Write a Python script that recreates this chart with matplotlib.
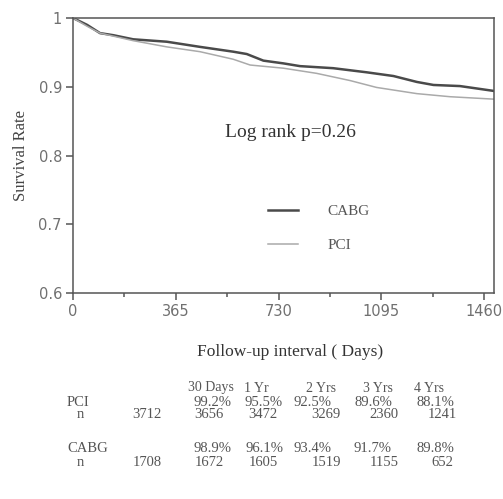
import matplotlib
matplotlib.use("Agg")
import matplotlib.pyplot as plt
from matplotlib.ticker import MultipleLocator

# Kaplan-Meier curves (days, survival)
cabg_days = [0, 50, 96, 143, 214, 333, 451, 569, 617, 676, 747, 806, 924, 1043, 1138, 1221, 1280, 1374, 1493]
cabg_surv = [1.0, 0.99, 0.978, 0.975, 0.969, 0.9655, 0.958, 0.951, 0.9476, 0.938, 0.934, 0.930, 0.927,
             0.921, 0.9156, 0.907, 0.9026, 0.901, 0.894]
pci_days = [0, 50, 96, 214, 333, 451, 569, 629, 747, 865, 984, 1078, 1221, 1339, 1493]
pci_surv = [1.0, 0.988, 0.978, 0.967, 0.958, 0.951, 0.940, 0.9316, 0.927, 0.9195, 0.909, 0.899, 0.890,
            0.8855, 0.882]

# table under the plot
periods = ["30 Days", "1 Yr", "2 Yrs", "3 Yrs", "4 Yrs"]
pci_pct = ["99.2%", "95.5%", "92.5%", "89.6%", "88.1%"]
pci_n = ["3712", "3656", "3472", "3269", "2360", "1241"]
cabg_pct = ["98.9%", "96.1%", "93.4%", "91.7%", "89.8%"]
cabg_n = ["1708", "1672", "1605", "1519", "1155", "652"]

W, H = 503, 499
fig = plt.figure(figsize=(W / 100, H / 100), dpi=100)
ax = fig.add_axes([73 / W, 1 - 293 / H, (494 - 73) / W, (293 - 18) / H])

ax.plot(cabg_days, cabg_surv, color="#4a4a4a", lw=1.8, label="CABG")
ax.plot(pci_days, pci_surv, color="#aaaaaa", lw=1.1, label="PCI")

ax.set_xlim(0, 1495)
ax.set_ylim(0.6, 1.0)
ax.xaxis.set_major_locator(MultipleLocator(365))
ax.xaxis.set_minor_locator(MultipleLocator(182.5))
ax.set_yticks([0.6, 0.7, 0.8, 0.9, 1.0])
ax.set_yticklabels(["0.6", "0.7", "0.8", "0.9", "1"])
for s in ax.spines.values():
    s.set_color("#555555")
    s.set_linewidth(1.1)
ax.tick_params(which="major", length=5, width=1.1, color="#555555", labelsize=10.5,
               labelcolor="#707070", pad=3)
ax.tick_params(which="minor", length=3, width=1.1, color="#555555")
ax.tick_params(axis="y", which="minor", length=0)

serif = "Liberation Serif"
ax.set_ylabel("Survival Rate", family=serif, fontsize=12, color="#444444", labelpad=7)
ax.text(771, 0.833, "Log rank p=0.26", family=serif, fontsize=14, color="#333333",
        ha="center", va="center")
leg = ax.legend(loc="center left", bbox_to_anchor=(0.43, 0.235), frameon=False,
                handlelength=2.0, handletextpad=1.9, labelspacing=1.3,
                prop={"family": serif, "size": 11})
for t in leg.get_texts():
    t.set_color("#555555")

fig.text(290 / W, 1 - 352 / H, "Follow-up interval ( Days)", family=serif, fontsize=12.5,
         color="#333333", ha="center", va="center")

# table layout (pixel positions)
txt_kw = dict(family=serif, fontsize=10.5, color="#555555", va="center")
hdr_x = [211, 256, 321, 378, 429]
pct_x = [213, 264, 313, 373, 435]
n_x = [147, 209, 263, 326, 384, 442]
rows_y = [388, 402, 415, 448, 462]

def fy(y):
    return 1 - y / H

for x, p in zip(hdr_x, periods):
    fig.text(x / W, fy(rows_y[0]), p, ha="center", **dict(txt_kw, fontsize=10))
fig.text(67 / W, fy(rows_y[1]), "PCI", ha="left", **txt_kw)
fig.text(80 / W, fy(rows_y[2]), "n", ha="center", **txt_kw)
fig.text(67 / W, fy(rows_y[3]), "CABG", ha="left", **txt_kw)
fig.text(80 / W, fy(rows_y[4]), "n", ha="center", **txt_kw)
for x, p in zip(pct_x, pci_pct):
    fig.text(x / W, fy(rows_y[1]), p, ha="center", **txt_kw)
for x, p in zip(n_x, pci_n):
    fig.text(x / W, fy(rows_y[2]), p, ha="center", **txt_kw)
for x, p in zip(pct_x, cabg_pct):
    fig.text(x / W, fy(rows_y[3]), p, ha="center", **txt_kw)
for x, p in zip(n_x, cabg_n):
    fig.text(x / W, fy(rows_y[4]), p, ha="center", **txt_kw)

fig.savefig("out.png", dpi=100)
